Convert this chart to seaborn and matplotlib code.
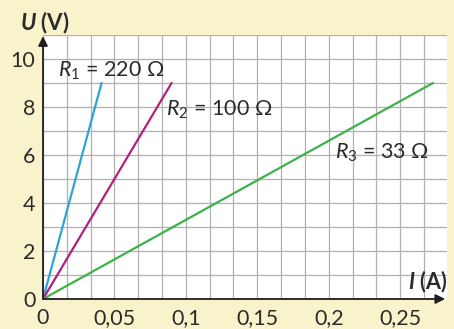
import matplotlib
matplotlib.use("Agg")
import matplotlib.pyplot as plt
import numpy as np
import pandas as pd
import seaborn as sns
from matplotlib.ticker import FixedLocator, MultipleLocator

# values
RESISTORS = ["R1", "R2", "R3"]
LABELS = [r"$R_1$ = 220 Ω", r"$R_2$ = 100 Ω", r"$R_3$ = 33 Ω"]
I_END = [0.041, 0.090, 0.273]  # A, current at the end of each line
U_END = [9.0, 9.0, 9.0]        # V
COLORS = ["#2ea3d6", "#b21f80", "#3cb24a"]

X_TICKS = [0, 0.05, 0.1, 0.15, 0.2, 0.25]
X_TICK_LABELS = ["0", "0,05", "0,1", "0,15", "0,2", "0,25"]
Y_TICKS = [0, 2, 4, 6, 8, 10]

BG = "#f8f3cb"
TXT = "#2b2b2b"

sns.set_theme(style="white")
plt.rcParams["font.family"] = ["Lato", "DejaVu Sans"]
plt.rcParams["mathtext.fontset"] = "custom"
plt.rcParams["mathtext.rm"] = "Lato"
plt.rcParams["mathtext.it"] = "Lato:italic"
plt.rcParams["mathtext.bfit"] = "Lato:italic:bold"

rows = []
for name, i_end, u_end in zip(RESISTORS, I_END, U_END):
    rows.append({"R": name, "I": 0.0, "U": 0.0})
    rows.append({"R": name, "I": i_end, "U": u_end})
df = pd.DataFrame(rows)

fig = plt.figure(figsize=(4.54, 3.29), dpi=100, facecolor=BG)
ax = fig.add_axes([43 / 454, 30 / 329, 404 / 454, 264 / 329])
ax.set_facecolor("white")

sns.lineplot(
    data=df, x="I", y="U", hue="R", palette=COLORS, legend=False,
    linewidth=1.6, ax=ax, zorder=3,
)

ax.set_xlim(0, 0.2828)
ax.set_ylim(0, 11)

ax.xaxis.set_major_locator(FixedLocator(X_TICKS))
ax.set_xticklabels(X_TICK_LABELS)
ax.xaxis.set_minor_locator(MultipleLocator(1 / 60))
ax.yaxis.set_major_locator(FixedLocator(Y_TICKS))
ax.yaxis.set_minor_locator(MultipleLocator(1))

ax.grid(which="both", color="#b0b0b0", linewidth=0.9)
ax.set_axisbelow(True)
ax.tick_params(axis="both", which="major", direction="out", length=3.5,
               width=1, color="#444444", labelsize=15.5, labelcolor=TXT, pad=2)
ax.tick_params(axis="y", which="minor", direction="out", length=3.5,
               width=1, color="#444444")
ax.tick_params(axis="x", which="minor", length=0)
ax.tick_params(axis="x", which="major", pad=3)

for side in ["top", "right", "left", "bottom"]:
    ax.spines[side].set_visible(False)
ax.set_xlabel("")
ax.set_ylabel("")

arrow = dict(arrowstyle="-|>", color="#1e1e1e", lw=1.3, mutation_scale=14,
             shrinkA=0, shrinkB=0)
ax.annotate("", xy=(0.2815, 0), xytext=(0, 0), arrowprops=arrow,
            annotation_clip=False, zorder=4)
ax.annotate("", xy=(0, 10.95), xytext=(0, 0), arrowprops=arrow,
            annotation_clip=False, zorder=4)

label_pos = [(0.0105, 9.5), (0.0862, 7.9), (0.2045, 6.1)]
for text, (lx, ly) in zip(LABELS, label_pos):
    ax.text(lx, ly, text, fontsize=15.5, color=TXT, ha="left", va="center",
            zorder=5)

ax.text(0.0015, 11.5, r"$\mathbfit{U}$ (V)", fontsize=16,
        fontweight="bold", color=TXT, ha="center", va="center", clip_on=False)
ax.text(0.2828, 0.72, r"$\mathbfit{I}$ (A)", fontsize=15.5,
        fontweight="bold", color=TXT, ha="right", va="center", clip_on=False)

fig.savefig("out.png", dpi=100, facecolor=BG)
